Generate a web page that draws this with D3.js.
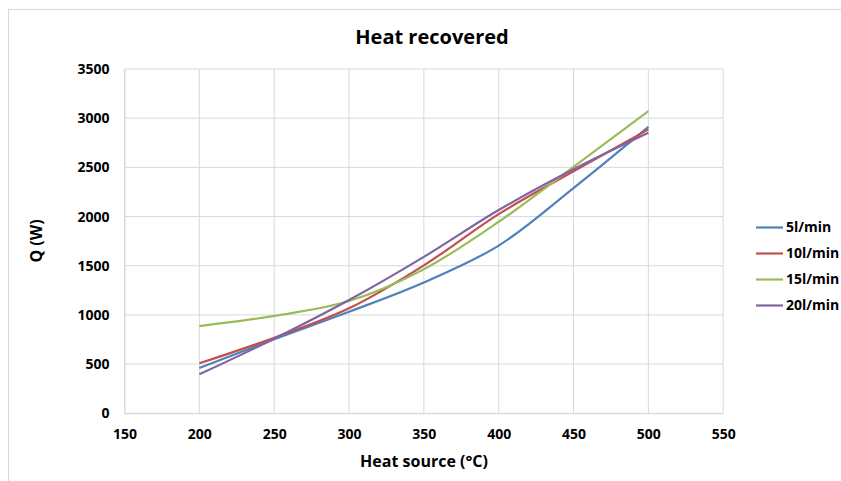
<!DOCTYPE html>
<html><head><meta charset="utf-8">
<script src="https://cdn.jsdelivr.net/npm/d3@7"></script>
<style>body{margin:0;background:#fff}svg{display:block}text{font-family:"Open Sans",sans-serif;font-weight:bold;fill:#000}</style>
</head><body><svg id="c" width="841" height="481"></svg>
<script>
const temps = [200, 250, 300, 350, 400, 450, 500];
const flow5 = [460, 752, 1032, 1330, 1705, 2290, 2912];
const flow10 = [508, 768, 1067, 1504, 2025, 2460, 2886];
const flow15 = [887, 990, 1141, 1465, 1947, 2505, 3072];
const flow20 = [396, 758, 1151, 1590, 2066, 2480, 2851];
const seriesNames = ["5l/min", "10l/min", "15l/min", "20l/min"];
const seriesColors = ["#4F81BD", "#C0504D", "#9BBB59", "#8064A2"];
const xTicks = [150, 200, 250, 300, 350, 400, 450, 500, 550];
const yTicks = [0, 500, 1000, 1500, 2000, 2500, 3000, 3500];

const series = [flow5, flow10, flow15, flow20].map((v, i) => ({
  name: seriesNames[i], color: seriesColors[i], pts: temps.map((t, j) => [t, v[j]])
}));

const svg = d3.select("#c");
svg.append("rect").attr("x", 8.5).attr("y", 9.5).attr("width", 840).attr("height", 480)
  .attr("fill", "#fff").attr("stroke", "#d9d9d9");

const x = d3.scaleLinear().domain([150, 550]).range([124.5, 723.2]);
const y = d3.scaleLinear().domain([0, 3500]).range([413.3, 69]);

const g = svg.append("g");
g.selectAll(".hg").data(yTicks).join("line")
  .attr("x1", x(150)).attr("x2", x(550)).attr("y1", d => y(d)).attr("y2", d => y(d))
  .attr("stroke", "#d9d9d9").attr("stroke-width", 1);
g.selectAll(".vg").data(xTicks).join("line")
  .attr("y1", y(0)).attr("y2", y(3500)).attr("x1", d => x(d)).attr("x2", d => x(d))
  .attr("stroke", "#d9d9d9").attr("stroke-width", 1);

const xa = svg.append("g").attr("transform", `translate(0,${y(0)})`)
  .call(d3.axisBottom(x).tickValues(xTicks).tickSize(0).tickPadding(16).tickFormat(d3.format("d")));
xa.select(".domain").attr("stroke", "#d9d9d9");
xa.selectAll("text").attr("font-size", 14).attr("font-family", "Open Sans").attr("font-weight", "bold").attr("fill", "#000");
const ya = svg.append("g").attr("transform", `translate(${x(150)},0)`)
  .call(d3.axisLeft(y).tickValues(yTicks).tickSize(0).tickPadding(15).tickFormat(d3.format("d")));
ya.select(".domain").attr("stroke", "#d9d9d9");
ya.selectAll("text").attr("font-size", 14).attr("font-family", "Open Sans").attr("font-weight", "bold").attr("fill", "#000");

const line = d3.line().x(d => x(d[0])).y(d => y(d[1])).curve(d3.curveCatmullRom.alpha(0.5));
svg.selectAll(".ser").data(series).join("path")
  .attr("d", d => line(d.pts)).attr("fill", "none")
  .attr("stroke", d => d.color).attr("stroke-width", 2.2).attr("stroke-linejoin", "round");

svg.append("text").attr("x", 432).attr("y", 44).attr("text-anchor", "middle").attr("font-size", 20).text("Heat recovered");
svg.append("text").attr("x", 424).attr("y", 467).attr("text-anchor", "middle").attr("font-size", 16).text("Heat source (°C)");
svg.append("text").attr("transform", "translate(42,241) rotate(-90)").attr("text-anchor", "middle").attr("font-size", 16).text("Q (W)");

const lg = svg.append("g").selectAll("g").data(series).join("g")
  .attr("transform", (d, i) => `translate(756,${227.5 + i * 26})`);
lg.append("line").attr("x1", 0).attr("x2", 27).attr("stroke", d => d.color).attr("stroke-width", 2.2);
lg.append("text").attr("x", 30).attr("dy", "0.35em").attr("font-size", 14).text(d => d.name);
</script></body></html>
